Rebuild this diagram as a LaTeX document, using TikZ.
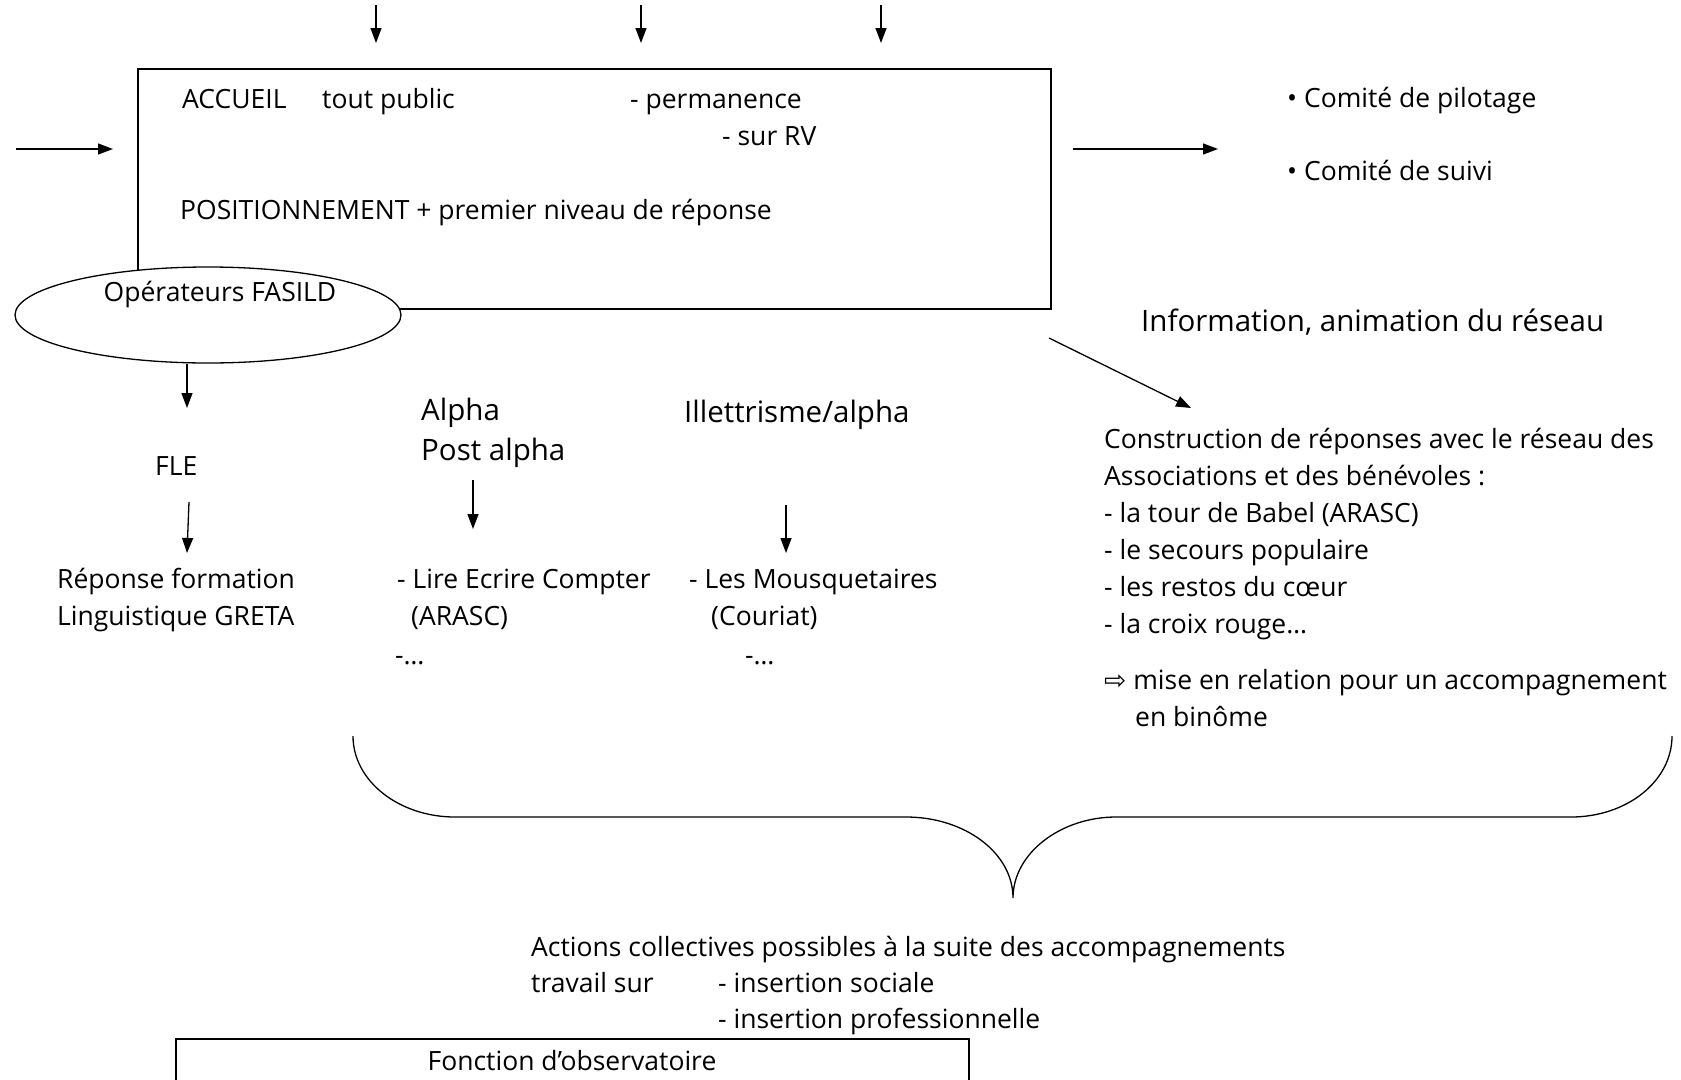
\documentclass[tikz,border=0pt]{standalone}
\usepackage{fontspec}
\setmainfont{Open Sans}
\newfontfamily\symf{DejaVu Sans}
\usetikzlibrary{arrows.meta,shapes.geometric}
\begin{document}
\begin{tikzpicture}[x=1pt,y=-1pt,
  txt/.style={inner sep=0pt, anchor=base west, font=\fontsize{26.5}{37}\selectfont, align=left},
  big/.style={inner sep=0pt, anchor=base west, font=\fontsize{29.5}{40}\selectfont, align=left},
  arr/.style={line width=1.3pt, -{Triangle[length=15pt,width=11pt]}},
  box/.style={draw, line width=1.8pt, inner sep=0pt}]
\clip (0,0) rectangle (1681,1079);
\fill[white] (0,0) rectangle (1681,1079);
% main box
\node[box, minimum width=913pt, minimum height=240pt, anchor=north west] (acc) at (137,68) {};
\node[txt] (t1) at (182,108) {ACCUEIL};
\node[txt] (t2) at (322,108) {tout public};
\node[txt] (t3) at (630,108) {- permanence};
\node[txt] (t4) at (722,145) {- sur RV};
\node[txt] (t5) at (180,219) {POSITIONNEMENT + premier niveau de réponse};
% ellipse
\node[ellipse, draw, fill=white, line width=1.3pt, minimum width=386pt, minimum height=96pt, inner sep=0pt] (ops) at (208,315) {};
\node[txt, anchor=center] (opst) at (220,295) {Opérateurs FASILD};
% top arrows
\coordinate (a1s) at (376,5); \coordinate (a1e) at (376,43);
\coordinate (a2s) at (641,5); \coordinate (a2e) at (641,43);
\coordinate (a3s) at (881,5); \coordinate (a3e) at (881,43);
\draw[arr] (a1s) -- (a1e);
\draw[arr] (a2s) -- (a2e);
\draw[arr] (a3s) -- (a3e);
% left arrow
\coordinate (lin) at (16,149); \coordinate (line) at (113,149);
\draw[arr] (lin) -- (line);
% right arrow
\coordinate (ros) at (1073,149); \coordinate (roe) at (1218,149);
\draw[arr] (ros) -- (roe);
\node[txt] (c1) at (1287,107) {• Comité de pilotage};
\node[txt] (c2) at (1287,180) {• Comité de suivi};
\node[big] (info) at (1141,331) {Information, animation du réseau};
% diagonal arrow
\coordinate (ds) at (1049,338); \coordinate (de) at (1191,408);
\draw[arr] (ds) -- (de);
\node[txt] (constr) at (1104,726) {Construction de réponses avec le réseau des\\
Associations et des bénévoles :\\
- la tour de Babel (ARASC)\\
- le secours populaire\\
- les restos du cœur\\
- la croix rouge…\\[19pt]
{\symf ⇨}\ mise en relation pour un accompagnement\\
\hspace*{31pt}en binôme};
% FLE column
\coordinate (f1e) at (187,408);
\draw[arr] ([xshift=-21pt]ops.south) -- (f1e);
\node[txt] (fle) at (155,475) {FLE};
\coordinate (f2s) at (189,502); \coordinate (f2e) at (187,553);
\draw[arr] (f2s) -- (f2e);
\node[txt] (rep) at (57,625) {Réponse formation\\Linguistique GRETA};
% Alpha column
\node[big] (alpha) at (421,460) {Alpha\\Post alpha};
\coordinate (p1s) at (473,480); \coordinate (p1e) at (473,529);
\draw[arr] (p1s) -- (p1e);
\node[txt] (lec) at (397,588) {- Lire Ecrire Compter};
\node[txt] (arasc) at (411,625) {(ARASC)};
\node[txt] (etc1) at (395,664) {-…};
% Illettrisme column
\node[big] (ill) at (684,422) {Illettrisme/alpha};
\coordinate (i1s) at (786,505); \coordinate (i1e) at (786,553);
\draw[arr] (i1s) -- (i1e);
\node[txt] (mous) at (689,588) {- Les Mousquetaires};
\node[txt] (cour) at (711,625) {(Couriat)};
\node[txt] (etc2) at (745,664) {-…};
% brace
\draw[line width=1.3pt] (353,736) .. controls (353,781) and (399,817) .. (455,817) -- (906,817)
  .. controls (965,817) and (1013,853) .. (1013,898)
  .. controls (1013,853) and (1061,817) .. (1116,817) -- (1571,817)
  .. controls (1627,817) and (1672,781) .. (1672,736);
% bottom text
\node[txt] (act) at (531,956) {Actions collectives possibles à la suite des accompagnements};
\node[txt] (trav) at (531,992) {travail sur};
\node[txt] (ins1) at (718,992) {- insertion sociale};
\node[txt] (ins2) at (718,1028) {- insertion professionnelle};
% bottom box
\node[box, minimum width=793pt, minimum height=120pt, anchor=north west] (obs) at (175,1038) {};
\node[txt, anchor=center] (obst) at (572,1061) {Fonction d’observatoire};
\end{tikzpicture}
\end{document}
